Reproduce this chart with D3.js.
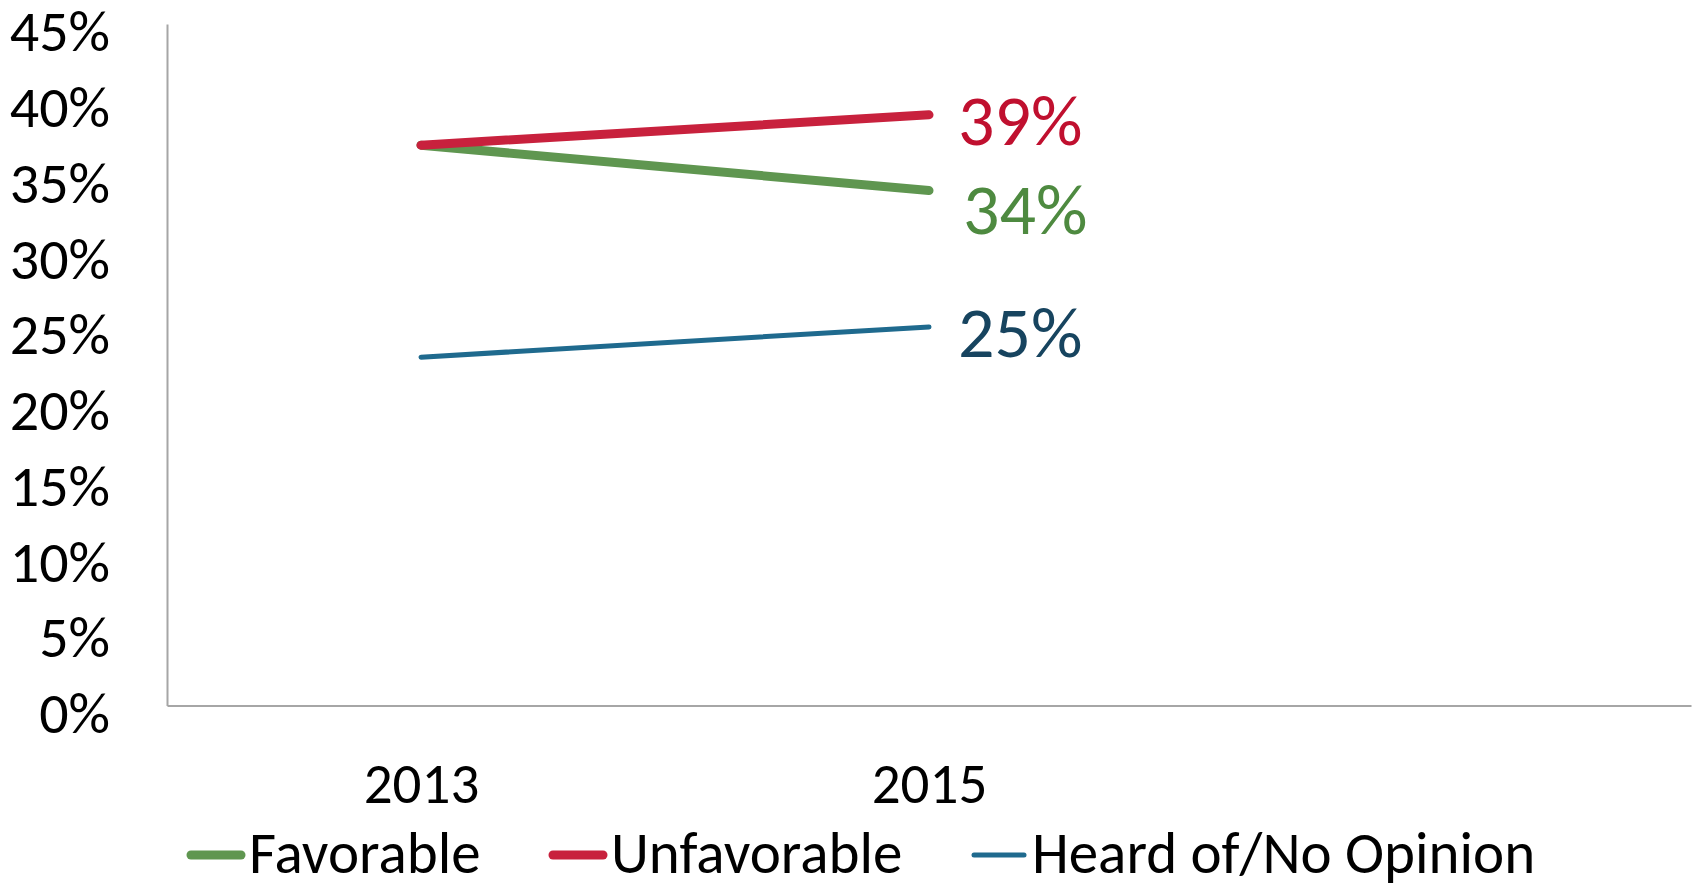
<!DOCTYPE html>
<html>
<head>
<meta charset="utf-8">
<script src="https://cdn.jsdelivr.net/npm/d3@7"></script>
<style>
  body { margin: 0; background: #fff; }
  svg { display: block; font-family: Carlito, Calibri, Lato, sans-serif; }
</style>
</head>
<body>
<svg></svg>
<script>
// data
var years = ["2013", "2015", ""];
var favorable = [37, 34];
var unfavorable = [37, 39];
var noOpinion = [23, 25];
var seriesNames = ["Favorable", "Unfavorable", "Heard of/No Opinion"];
var yTicks = [0, 5, 10, 15, 20, 25, 30, 35, 40, 45];

var w = 1694,
    h = 887,
    plotLeft = 167,
    plotRight = 1691,
    plotTop = 24,
    plotBottom = 705.5;

var svg = d3.select("svg")
    .attr("width", w)
    .attr("height", h);

var x = d3.scalePoint()
    .domain(years)
    .range([plotLeft, plotRight])
    .padding(0.5);

var y = d3.scaleLinear()
    .domain([0, 45])
    .range([plotBottom, plotTop]);

var series = [
    { name: seriesNames[0], values: favorable,   color: "#5f9650", text: "#4e8a40", width: 9, dx: 34, dy: 43 },
    { name: seriesNames[1], values: unfavorable, color: "#c8213d", text: "#c0102f", width: 9, dx: 29, dy: 30 },
    { name: seriesNames[2], values: noOpinion,   color: "#1f6a8e", text: "#17445f", width: 5, dx: 29, dy: 30 }
];

// y axis
var yAxis = svg.append("g")
    .attr("transform", "translate(" + plotLeft + ",0)")
    .call(d3.axisLeft(y).tickValues(yTicks).tickSize(0).tickPadding(57)
        .tickFormat(function(d) { return d + "%"; }));
yAxis.attr("font-family", null);
yAxis.select(".domain").attr("stroke", "#a6a6a6").attr("stroke-width", 2);
yAxis.selectAll("text")
    .attr("font-size", 58)
    .attr("fill", "#000")
    .attr("dy", "0.465em");

// x axis
var xAxis = svg.append("g")
    .attr("transform", "translate(0," + plotBottom + ")")
    .call(d3.axisBottom(x).tickSize(0).tickPadding(57));
xAxis.attr("font-family", null);
xAxis.select(".domain").attr("stroke", "#a6a6a6").attr("stroke-width", 2);
xAxis.selectAll("text")
    .attr("font-size", 57)
    .attr("fill", "#000");

var line = d3.line()
    .x(function(d, i) { return x(years[i]); })
    .y(function(d) { return y(d); });

// blue first, then green, red on top like the original
var order = [2, 0, 1];
order.forEach(function(k) {
    var s = series[k];
    svg.append("path")
        .datum(s.values)
        .attr("d", line)
        .attr("fill", "none")
        .attr("stroke", s.color)
        .attr("stroke-width", s.width)
        .attr("stroke-linecap", "round");
});

// end labels
svg.selectAll("text.endlabel")
    .data(series)
    .enter()
    .append("text")
    .attr("class", "endlabel")
    .attr("x", function(d) { return x(years[1]) + d.dx; })
    .attr("y", function(d) { return y(d.values[1]) + d.dy; })
    .attr("font-size", 72)
    .attr("fill", function(d) { return d.text; })
    .text(function(d) { return d.values[1] + "%"; });

// legend
var legendX = [187, 549, 970];
var legend = svg.selectAll("g.legend")
    .data(series)
    .enter()
    .append("g")
    .attr("class", "legend")
    .attr("transform", function(d, i) { return "translate(" + legendX[i] + ",855)"; });

legend.append("line")
    .attr("x1", 4)
    .attr("x2", 54)
    .attr("stroke", function(d) { return d.color; })
    .attr("stroke-width", function(d) { return d.width; })
    .attr("stroke-linecap", "round");

legend.append("text")
    .attr("x", 62)
    .attr("y", 18)
    .attr("font-size", 59)
    .attr("fill", "#000")
    .text(function(d) { return d.name; });
</script>
</body>
</html>
